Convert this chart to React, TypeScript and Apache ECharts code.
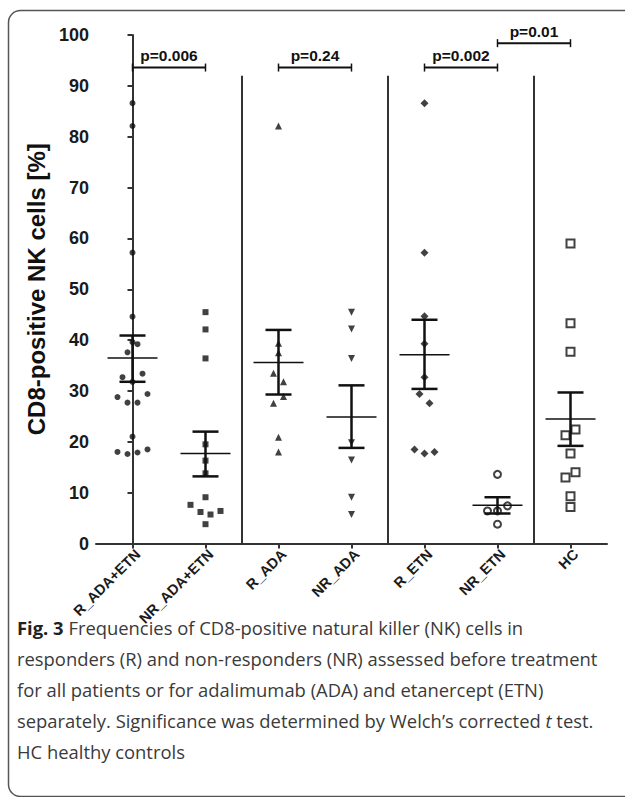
import React, { useEffect, useRef } from 'react';
import * as echarts from 'echarts';

// ---------- data ----------
const categories = ['R_ADA+ETN', 'NR_ADA+ETN', 'R_ADA', 'NR_ADA', 'R_ETN', 'NR_ETN', 'HC'];

const rAdaEtn = [86.6, 82.1, 57.2, 44.6, 39.6, 39.2, 37.6, 32.7, 31.8, 33.4, 28.8, 27.7, 27.7, 29.4, 21.0, 18.0, 17.6, 17.9, 18.5];
const rAdaEtnSlot = [0, 0, 0, 0, 0, 0.5, -0.5, -1, 0, 1, -1.5, -0.5, 0.5, 1.5, 0, -1.5, -0.5, 0.5, 1.5];

const nrAdaEtn = [45.5, 42.1, 36.4, 19.5, 16.3, 13.8, 9.1, 7.6, 6.2, 5.7, 6.4, 3.8];
const nrAdaEtnSlot = [0, 0, 0, 0, 0, 0, 0, -1.5, -0.5, 0.5, 1.5, 0];

const rAda = [82.1, 39.4, 37.5, 33.5, 31.8, 28.9, 27.6, 20.9, 18.0];
const rAdaSlot = [0, 0, 0, -0.5, 0.5, 0.5, -0.5, 0, 0];

const nrAda = [45.5, 42.2, 36.4, 19.8, 16.4, 9.1, 5.7];
const nrAdaSlot = [0, 0, 0, 0, 0, 0, 0];

const rEtn = [86.6, 57.2, 44.7, 39.3, 32.7, 29.4, 27.6, 18.5, 17.7, 18.0];
const rEtnSlot = [0, 0, 0, 0, 0, -0.5, 0.5, -1, 0, 1];

const nrEtn = [13.6, 6.4, 6.4, 7.4, 3.8];
const nrEtnSlot = [0, -1, 0, 1, 0];

const hc = [59.0, 43.3, 37.7, 22.4, 21.3, 17.7, 14.0, 13.0, 9.3, 7.2];
const hcSlot = [0, 0, 0, 0.5, -0.5, 0, 0.5, -0.5, 0, 0];

const means = [36.5, 17.7, 35.6, 24.9, 37.1, 7.5, 24.5];
const semHigh = [40.9, 22.0, 42.0, 31.1, 44.0, 9.1, 29.7];
const semLow = [31.8, 13.2, 29.3, 18.8, 30.4, 5.9, 19.2];

const separatorsAt = [1.5, 3.5, 5.5];
const separatorTop = 92;

const bracketFrom = [0, 2, 4, 5];
const bracketTo = [1, 3, 5, 6];
const bracketLevel = [93.6, 93.6, 93.6, 98.4];
const pLabels = ['p=0.006', 'p=0.24', 'p=0.002', 'p=0.01'];

const yTicks = { min: 0, max: 100, interval: 10 };

const captionLines = [
  '{b|Fig. 3} Frequencies of CD8-positive natural killer (NK) cells in',
  'responders (R) and non-responders (NR) assessed before treatment',
  'for all patients or for adalimumab (ADA) and etanercept (ETN)',
  'separately. Significance was determined by Welch\u2019s corrected {i|t} test.',
  'HC healthy controls',
];

// ---------- styling ----------
const INK = '#111';
const AXIS = '#333';
const FONT = '"Liberation Sans", Arial, Helvetica, sans-serif';
const CAPTION_FONT = '"Open Sans", "Noto Sans", sans-serif';
const SLOT = 0.137; // category units per jitter slot

const groups = [
  { data: rAdaEtn, slot: rAdaEtnSlot, symbol: 'circle', size: 6, open: false, rotate: 0 },
  { data: nrAdaEtn, slot: nrAdaEtnSlot, symbol: 'rect', size: 6, open: false, rotate: 0 },
  { data: rAda, slot: rAdaSlot, symbol: 'triangle', size: 7, open: false, rotate: 0 },
  { data: nrAda, slot: nrAdaSlot, symbol: 'triangle', size: 7, open: false, rotate: 180 },
  { data: rEtn, slot: rEtnSlot, symbol: 'diamond', size: 8, open: false, rotate: 0 },
  { data: nrEtn, slot: nrEtnSlot, symbol: 'circle', size: 7, open: true, rotate: 0 },
  { data: hc, slot: hcSlot, symbol: 'rect', size: 8, open: true, rotate: 0 },
];

export default function App() {
  const ref = useRef<HTMLDivElement>(null);

  useEffect(() => {
    if (!ref.current) return;
    const chart = echarts.init(ref.current, undefined, { renderer: 'svg' });

    const scatterSeries = groups.map((g, gi) => ({
      type: 'scatter',
      name: categories[gi],
      xAxisIndex: 1,
      yAxisIndex: 0,
      symbol: g.symbol,
      symbolSize: g.size,
      symbolRotate: g.rotate,
      itemStyle: g.open
        ? { color: '#fff', borderColor: INK, borderWidth: 2 }
        : { color: INK },
      z: 3,
      data: g.data.map((v, i) => [gi + g.slot[i] * SLOT, v]),
    }));

    const errorSeries = {
      type: 'custom',
      xAxisIndex: 1,
      yAxisIndex: 0,
      clip: false,
      z: 4,
      data: means.map((m, i) => [i, m, semLow[i], semHigh[i]]),
      renderItem: (params: any, api: any) => {
        const x = api.value(0);
        const c = api.coord([x, api.value(1)]);
        const lo = api.coord([x, api.value(2)]);
        const hi = api.coord([x, api.value(3)]);
        const thick = { stroke: INK, lineWidth: 2.5 };
        return {
          type: 'group',
          children: [
            { type: 'line', shape: { x1: c[0] - 25, y1: c[1], x2: c[0] + 25, y2: c[1] }, style: { stroke: INK, lineWidth: 1.5 } },
            { type: 'line', shape: { x1: c[0], y1: hi[1], x2: c[0], y2: lo[1] }, style: thick },
            { type: 'line', shape: { x1: c[0] - 13, y1: hi[1], x2: c[0] + 13, y2: hi[1] }, style: thick },
            { type: 'line', shape: { x1: c[0] - 13, y1: lo[1], x2: c[0] + 13, y2: lo[1] }, style: thick },
          ],
        };
      },
    };

    const separatorSeries = {
      type: 'custom',
      xAxisIndex: 1,
      yAxisIndex: 0,
      clip: false,
      z: 1,
      data: separatorsAt.map((s) => [s, 0, separatorTop]),
      renderItem: (params: any, api: any) => {
        const a = api.coord([api.value(0), api.value(1)]);
        const b = api.coord([api.value(0), api.value(2)]);
        return {
          type: 'line',
          shape: { x1: a[0], y1: a[1], x2: b[0], y2: b[1] },
          style: { stroke: AXIS, lineWidth: 2 },
        };
      },
    };

    const bracketSeries = {
      type: 'custom',
      xAxisIndex: 1,
      yAxisIndex: 0,
      clip: false,
      z: 5,
      data: bracketFrom.map((f, i) => [f, bracketTo[i], bracketLevel[i]]),
      renderItem: (params: any, api: any) => {
        const a = api.coord([api.value(0), api.value(2)]);
        const b = api.coord([api.value(1), api.value(2)]);
        const st = { stroke: INK, lineWidth: 2 };
        return {
          type: 'group',
          children: [
            { type: 'line', shape: { x1: a[0], y1: a[1], x2: b[0], y2: b[1] }, style: st },
            { type: 'line', shape: { x1: a[0], y1: a[1] - 4, x2: a[0], y2: a[1] + 4 }, style: { stroke: INK, lineWidth: 1.5 } },
            { type: 'line', shape: { x1: b[0], y1: b[1] - 4, x2: b[0], y2: b[1] + 4 }, style: { stroke: INK, lineWidth: 1.5 } },
            {
              type: 'text',
              x: (a[0] + b[0]) / 2,
              y: a[1] - 4,
              style: {
                text: pLabels[params.dataIndex],
                fill: INK,
                fontFamily: FONT,
                fontWeight: 'bold',
                fontSize: 15.5,
                align: 'center',
                verticalAlign: 'bottom',
                textAlign: 'center',
                textVerticalAlign: 'bottom',
              },
            },
          ],
        };
      },
    };

    const captionGraphics = captionLines.map((line, i) => ({
      type: 'text',
      left: 17,
      top: 618 + i * 31,
      style: {
        text: line,
        fill: '#3a3a3a',
        fontSize: 18.4,
        fontFamily: CAPTION_FONT,
        rich: {
          b: { fontSize: 18.4, fontFamily: CAPTION_FONT, fontWeight: 'bold', fill: '#222' },
          i: { fontSize: 18.4, fontFamily: CAPTION_FONT, fontStyle: 'italic', fill: '#3a3a3a' },
        },
      },
    }));

    chart.setOption({
      animation: false,
      backgroundColor: '#fff',
      grid: { left: 96, right: 18, top: 35, bottom: 253.5, containLabel: false },
      xAxis: [
        {
          type: 'category',
          data: categories,
          boundaryGap: true,
          axisLine: { show: true, lineStyle: { color: AXIS, width: 2 } },
          axisTick: { show: true, alignWithLabel: true, length: 5, lineStyle: { color: AXIS, width: 2 } },
          axisLabel: {
            rotate: 45,
            margin: 3,
            verticalAlign: 'top',
            color: '#1a1a1a',
            fontFamily: FONT,
            fontWeight: 'bold',
            fontSize: 14.5,
            interval: 0,
          },
          splitLine: { show: false },
        },
        { type: 'value', min: -0.5, max: 6.5, show: false },
      ],
      yAxis: {
        type: 'value',
        min: yTicks.min,
        max: yTicks.max,
        interval: yTicks.interval,
        name: 'CD8-positive NK cells [%]',
        nameLocation: 'middle',
        nameRotate: 90,
        nameGap: 42,
        nameTextStyle: { color: INK, fontFamily: FONT, fontWeight: 'bold', fontSize: 24 },
        axisLine: { show: true, lineStyle: { color: AXIS, width: 2 } },
        axisTick: { show: true, length: 5, lineStyle: { color: AXIS, width: 2 } },
        axisLabel: { margin: 7, color: '#1a1a1a', fontFamily: FONT, fontWeight: 'bold', fontSize: 18 },
        splitLine: { show: false },
      },
      graphic: [
        {
          type: 'rect',
          shape: { x: 8.5, y: 10.5, width: 640, height: 786, r: 12 },
          style: { fill: 'none', stroke: '#555', lineWidth: 1.5 },
          silent: true,
        },
        ...captionGraphics,
      ],
      series: [separatorSeries, ...scatterSeries, errorSeries, bracketSeries],
    });

    return () => chart.dispose();
  }, []);

  return (
    <div
      ref={ref}
      style={{ position: 'fixed', left: 0, top: 0, width: 625, height: 797, background: '#fff' }}
    />
  );
}
